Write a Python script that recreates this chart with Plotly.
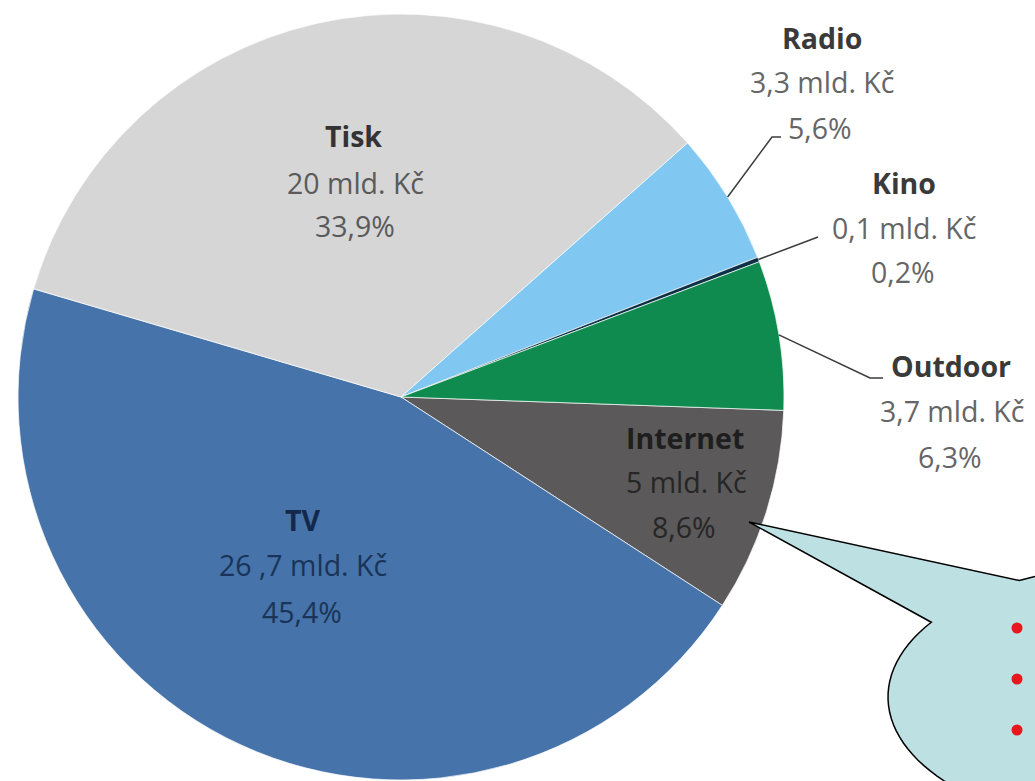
import math
import plotly.graph_objects as go

# ---- data ----
categories = ["Internet", "TV", "Tisk", "Radio", "Kino", "Outdoor"]
shares = [8.6, 45.4, 33.9, 5.6, 0.2, 6.3]            # percent
amount_labels = ["5", "26 ,7", "20", "3,3", "0,1", "3,7"]  # mld. Kč
colors = ["#5b5959", "#4674aa", "#d6d6d6", "#80c8f2", "#0d3147", "#0f8b4f"]

W, H = 1035, 781
def X(x): return x / W
def Y(y): return 1 - y / H

# pie geometry (pixels)
CX, CY, R = 401, 397, 383
ROT = 92

fig = go.Figure(go.Pie(
    labels=categories, values=shares, sort=False, direction="clockwise",
    rotation=ROT, marker=dict(colors=colors, line=dict(color="rgba(255,255,255,0.7)", width=1)),
    textinfo="none", hoverinfo="label+percent", showlegend=False,
    domain=dict(x=[X(CX - R), X(CX + R)], y=[Y(CY + R), Y(CY - R)]),
))

# label layout: (name pos, amount pos, percent pos) centers in pixels, name colour, value colour
label_pos = {
    "Internet": ((685, 438), (686, 482), (684, 527), "#1e1e1e", "#262626"),
    "TV": ((303, 520), (303, 565), (302, 612), "#13284a", "#1a3358"),
    "Tisk": ((353, 136), (355, 183), (355, 226), "#333333", "#5a5a5a"),
    "Radio": ((822, 38), (822, 82), (820, 128), "#3a3a3a", "#666666"),
    "Kino": ((904, 183), (904, 228), (903, 272), "#3a3a3a", "#666666"),
    "Outdoor": ((951, 366), (952, 411), (950, 457), "#3a3a3a", "#666666"),
}
FONT = "Open Sans"
FS = 28.5
ann = []
for cat, amt, sh in zip(categories, amount_labels, shares):
    p1, p2, p3, c1, c2 = label_pos[cat]
    pct = (f"{sh:.1f}").replace(".", ",") + "%"
    for (px, py), txt, col, bold in ((p1, cat, c1, True), (p2, f"{amt} mld. Kč", c2, False), (p3, pct, c2, False)):
        ann.append(dict(x=X(px), y=Y(py), xref="paper", yref="paper", showarrow=False,
                        text=f"<b>{txt}</b>" if bold else txt, xanchor="center", yanchor="middle",
                        font=dict(family=FONT, size=FS, color=col)))

# leader lines for outside labels: start on rim at slice mid-angle
cum = 0
mids = {}
for cat, sh in zip(categories, shares):
    mid = ROT + (cum + sh / 2) * 3.6
    mids[cat] = mid
    cum += sh
leader_pts = {
    "Radio": [(772, 137), (781, 137)],
    "Kino": [(818, 237)],
    "Outdoor": [(870, 378), (883, 378)],
}
shapes = []
for cat, pts in leader_pts.items():
    a = math.radians(mids[cat])
    sx, sy = CX + R * math.sin(a), CY - R * math.cos(a)
    path = f"M {X(sx)},{Y(sy)} " + " ".join(f"L {X(x)},{Y(y)}" for x, y in pts)
    shapes.append(dict(type="path", path=path, xref="paper", yref="paper",
                       line=dict(color="#3c3c3c", width=1.5)))

# speech-bubble callout
ECX, ECY, ERX, ERY = 1130, 697, 242, 131
t0, t1 = 214.8, -117.2
n = 120
pts = []
for i in range(n + 1):
    t = math.radians(t0 + (t1 - t0) * i / n)
    pts.append((ECX + ERX * math.cos(t), ECY + ERY * math.sin(t)))
pts.append((749, 522))
bpath = f"M {X(pts[0][0])},{Y(pts[0][1])} " + " ".join(f"L {X(x)},{Y(y)}" for x, y in pts[1:]) + " Z"
shapes.append(dict(type="path", path=bpath, xref="paper", yref="paper",
                   fillcolor="#bde0e3", line=dict(color="black", width=1.5)))
for by in (628, 679, 730):
    r = 5.5
    shapes.append(dict(type="circle", xref="paper", yref="paper",
                       x0=X(1017 - r), x1=X(1017 + r), y0=Y(by + r), y1=Y(by - r),
                       fillcolor="#e8161d", line=dict(width=0)))

fig.update_layout(width=W, height=H, margin=dict(l=0, r=0, t=0, b=0),
                  paper_bgcolor="white", plot_bgcolor="white",
                  annotations=ann, shapes=shapes)
fig.write_html("out.html")
